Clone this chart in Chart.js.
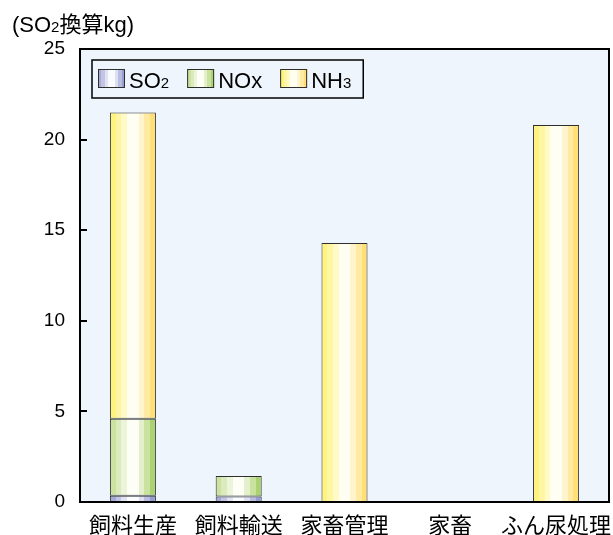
<!DOCTYPE html>
<html>
<head>
<meta charset="utf-8">
<script src="https://cdn.jsdelivr.net/npm/chart.js@4/dist/chart.umd.min.js"></script>
<style>
  html, body { margin: 0; padding: 0; background: #ffffff; }
  #wrap { width: 613px; height: 535px; position: relative; }
</style>
</head>
<body>
<div id="wrap"><canvas id="chart"></canvas></div>
<script>
// Emissions by stage, in kg SO2 equivalent
const categories = ['飼料生産', '飼料輸送', '家畜管理', '家畜', 'ふん尿処理'];
const seriesLabels = ['SO2', 'NOx', 'NH3'];
const so2Values = [0.35, 0.3, 0, 0, 0];
const noxValues = [4.25, 1.13, 0, 0, 0];
const nh3Values = [16.9, 0, 14.3, 0, 20.8];
const yTickValues = [0, 5, 10, 15, 20, 25];
const axisTitle = ['(SO', '2', '換算kg)'];

// Striped cylinder-like fills: dark edge -> pale centre -> darker edge
const bands = {
  SO2: ['#a6aad8', '#c2c5e5', '#e1e3f3', '#fafbff', '#fafbff', '#dde0f1', '#b9bee1', '#959ed1'],
  NOx: ['#cce3a0', '#dbebbd', '#ecf4da', '#fdfef6', '#fdfef6', '#e4efcc', '#c9e29d', '#aad272'],
  NH3: ['#fff37f', '#fff6a3', '#fffac6', '#fffef2', '#fffef2', '#fff4cc', '#ffeaa2', '#ffdf76']
};
const edgeColor = '#2e2e2e';
const plotBg = '#eef5fc';
const LATIN = '"Liberation Sans", Arial, "Noto Sans CJK JP", sans-serif';
const CJK = '"Noto Sans CJK JP", "Liberation Sans", sans-serif';
const BAR_FRACTION = 0.435;

function bandGradient(ctx2d, x0, x1, colors) {
  const g = ctx2d.createLinearGradient(x0, 0, x1, 0);
  const n = colors.length;
  colors.forEach((c, i) => {
    g.addColorStop(i / n, c);
    g.addColorStop(Math.min(1, (i + 1) / n - 0.0001), c);
  });
  return g;
}

function barFill(colors) {
  return (context) => {
    const chart = context.chart;
    const xs = chart.scales && chart.scales.x;
    if (!xs || context.type !== 'data' || !chart.chartArea) return colors[3];
    const center = xs.getPixelForValue(context.dataIndex);
    const half = (xs.width / categories.length) * BAR_FRACTION / 2;
    return bandGradient(chart.ctx, center - half, center + half, colors);
  };
}

const seriesValues = [so2Values, noxValues, nh3Values];
const datasets = seriesLabels.map((label, i) => ({
  label,
  data: seriesValues[i].map(v => (v === 0 ? null : v)),
  backgroundColor: barFill(bands[label]),
  borderColor: edgeColor,
  borderWidth: 1,
  borderSkipped: false,
  categoryPercentage: 1,
  barPercentage: BAR_FRACTION
}));

// Draws text with a trailing subscript part, returns the end x
function drawRich(ctx, parts, x, y, size, subSize) {
  parts.forEach((p, i) => {
    if (!p) return;
    const isSub = (i === 1);
    ctx.font = (isSub ? subSize : size) + 'px ' + LATIN;
    ctx.fillText(p, x, y);
    x += ctx.measureText(p).width;
  });
  return x;
}
function splitSub(label) {
  const m = label.match(/^(.*?)(\d+)$/);
  return m ? [m[1], m[2]] : [label, ''];
}

const framePlugin = {
  id: 'frame',
  beforeDatasetsDraw(chart) {
    const { ctx, chartArea: a } = chart;
    ctx.save();
    ctx.fillStyle = plotBg;
    ctx.fillRect(a.left, a.top, a.right - a.left, a.bottom - a.top);
    ctx.restore();
  },
  afterDatasetsDraw(chart) {
    const { ctx, chartArea: a, scales } = chart;
    ctx.save();
    ctx.strokeStyle = '#000';
    ctx.lineWidth = 2;
    ctx.strokeRect(a.left, a.top, a.right - a.left, a.bottom - a.top);
    // inward tick marks on the value axis
    scales.y.ticks.forEach(t => {
      const y = Math.round(scales.y.getPixelForValue(t.value));
      ctx.beginPath();
      ctx.moveTo(a.left, y);
      ctx.lineTo(a.left + 7, y);
      ctx.stroke();
    });

    // legend
    const lx = 92, ly = 60, lh = 38;
    const big = 22, small = 15;
    const items = [];
    let x = lx + 6;
    seriesLabels.forEach((label) => {
      const parts = splitSub(label);
      ctx.font = big + 'px ' + LATIN;
      let w = ctx.measureText(parts[0]).width;
      ctx.font = small + 'px ' + LATIN;
      w += parts[1] ? ctx.measureText(parts[1]).width : 0;
      items.push({ label, parts, x, w });
      x += 27 + 4 + w + 18;
    });
    const lw = x - 18 + 12 - lx;
    ctx.fillStyle = plotBg;
    ctx.fillRect(lx, ly, lw, lh);
    ctx.lineWidth = 1.5;
    ctx.strokeStyle = '#000';
    ctx.strokeRect(lx, ly, lw, lh);
    items.forEach(it => {
      ctx.fillStyle = bandGradient(ctx, it.x, it.x + 27, bands[it.label]);
      ctx.fillRect(it.x, ly + 9, 27, 19);
      ctx.lineWidth = 1;
      ctx.strokeStyle = edgeColor;
      ctx.strokeRect(it.x + 0.5, ly + 9.5, 26, 18);
      ctx.fillStyle = '#000';
      ctx.textBaseline = 'alphabetic';
      ctx.textAlign = 'left';
      drawRich(ctx, it.parts, it.x + 31, ly + 27.5, big, small);
    });

    // unit caption above the value axis
    ctx.fillStyle = '#000';
    ctx.textBaseline = 'alphabetic';
    ctx.textAlign = 'left';
    drawRich(ctx, axisTitle, 12, 32, 22, 15);
    ctx.restore();
  }
};

new Chart(document.getElementById('chart'), {
  type: 'bar',
  data: { labels: categories, datasets },
  options: {
    responsive: true,
    maintainAspectRatio: false,
    animation: false,
    events: [],
    layout: { padding: { top: 49, right: 4, left: 0, bottom: 0 } },
    plugins: { legend: { display: false }, tooltip: { enabled: false } },
    scales: {
      x: {
        stacked: true,
        grid: { display: false },
        border: { display: false },
        ticks: {
          color: '#000',
          font: { family: CJK, size: 22 },
          padding: 1,
          maxRotation: 0,
          autoSkip: false
        },
        afterFit(scale) { scale.height = 33; }
      },
      y: {
        stacked: true,
        min: 0,
        max: 25,
        grid: { display: false, drawTicks: false },
        border: { display: false },
        afterBuildTicks(scale) { scale.ticks = yTickValues.map(v => ({ value: v })); },
        ticks: {
          color: '#000',
          font: { family: LATIN, size: 19 },
          padding: 15
        },
        afterFit(scale) { scale.width = 80; }
      }
    }
  },
  plugins: [framePlugin]
});
</script>
</body>
</html>
